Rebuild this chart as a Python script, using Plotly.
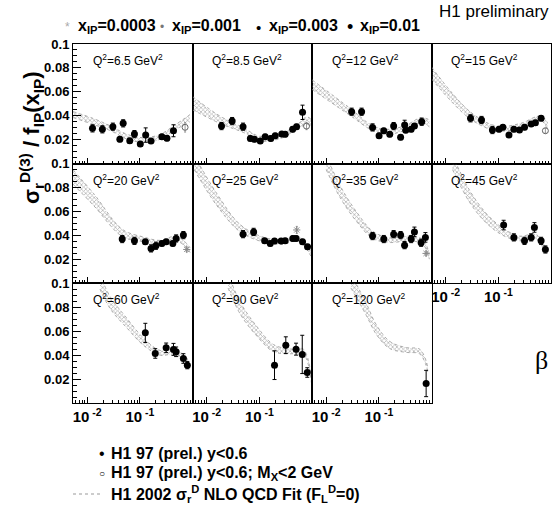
import plotly.graph_objects as go
from plotly.subplots import make_subplots

# Q^2 bins, one panel each (GeV^2)
q2_values = ["6.5", "8.5", "12", "15", "20", "25", "35", "45", "60", "90", "120"]

# H1 97 (prel.) y<0.6 : beta, sigma_r^D / f_IP, total error
pt_beta = [
    [0.0126, 0.0194, 0.0307, 0.0482, 0.0417, 0.0643, 0.0789, 0.102, 0.129, 0.163, 0.262, 0.327, 0.435],
    [0.0191, 0.0304, 0.049, 0.0675, 0.0805, 0.104, 0.129, 0.165, 0.2, 0.267, 0.309, 0.429, 0.509, 0.661],
    [0.0304, 0.047, 0.0759, 0.101, 0.124, 0.161, 0.191, 0.259, 0.309, 0.324, 0.411, 0.474, 0.652],
    [0.0296, 0.0479, 0.0771, 0.103, 0.122, 0.159, 0.197, 0.252, 0.314, 0.42, 0.506, 0.649],
    [0.0462, 0.0789, 0.127, 0.163, 0.202, 0.262, 0.316, 0.423, 0.489, 0.671],
    [0.049, 0.0778, 0.126, 0.161, 0.194, 0.259, 0.309, 0.432, 0.498, 0.661, 0.822],
    [0.0759, 0.124, 0.191, 0.259, 0.308, 0.411, 0.474, 0.635, 0.766],
    [0.126, 0.197, 0.314, 0.42, 0.484, 0.649, 0.782],
    [0.127, 0.196, 0.316, 0.435, 0.489, 0.671, 0.798],
    [0.194, 0.318, 0.498, 0.653, 0.813],
    [0.791],
]
pt_val = [
    [0.0295, 0.0287, 0.0309, 0.0337, 0.0203, 0.0191, 0.0247, 0.0164, 0.0239, 0.0189, 0.0225, 0.0212, 0.0275],
    [0.0314, 0.0356, 0.0309, 0.0211, 0.0203, 0.0189, 0.0225, 0.0211, 0.0233, 0.0247, 0.0245, 0.0287, 0.0309, 0.0429],
    [0.0434, 0.0434, 0.0303, 0.0233, 0.0275, 0.0245, 0.0314, 0.022, 0.0323, 0.028, 0.0287, 0.0314, 0.035],
    [0.0379, 0.0365, 0.0281, 0.0287, 0.0304, 0.0239, 0.0287, 0.0281, 0.0304, 0.0331, 0.0342, 0.0379],
    [0.037, 0.0355, 0.0347, 0.0292, 0.0314, 0.0333, 0.0347, 0.0333, 0.0375, 0.0403],
    [0.0411, 0.043, 0.0355, 0.0333, 0.0353, 0.0353, 0.0355, 0.0375, 0.0375, 0.0347, 0.0305],
    [0.0395, 0.037, 0.0411, 0.0403, 0.0319, 0.037, 0.043, 0.0339, 0.0384],
    [0.0487, 0.0384, 0.0355, 0.0384, 0.0467, 0.0355, 0.0283],
    [0.0586, 0.0414, 0.0461, 0.0448, 0.0428, 0.0372, 0.0316],
    [0.0316, 0.0483, 0.045, 0.0406, 0.0255],
    [0.0163],
]
pt_err = [
    [0.003, 0.003, 0.003, 0.003, 0.002, 0.002, 0.003, 0.002, 0.006, 0.002, 0.002, 0.002, 0.005],
    [0.003, 0.003, 0.003, 0.002, 0.002, 0.002, 0.002, 0.002, 0.002, 0.002, 0.002, 0.002, 0.002, 0.006],
    [0.003, 0.003, 0.003, 0.002, 0.002, 0.002, 0.003, 0.002, 0.004, 0.002, 0.002, 0.002, 0.003],
    [0.003, 0.003, 0.003, 0.002, 0.002, 0.002, 0.002, 0.002, 0.002, 0.002, 0.002, 0.002],
    [0.003, 0.003, 0.002, 0.003, 0.003, 0.002, 0.002, 0.002, 0.003, 0.003],
    [0.003, 0.003, 0.002, 0.002, 0.002, 0.002, 0.002, 0.002, 0.002, 0.002, 0.002],
    [0.003, 0.003, 0.003, 0.003, 0.003, 0.003, 0.004, 0.003, 0.004],
    [0.004, 0.003, 0.003, 0.003, 0.004, 0.003, 0.003],
    [0.008, 0.004, 0.004, 0.005, 0.004, 0.004, 0.003],
    [0.012, 0.007, 0.005, 0.016, 0.004],
    [0.011],
]

# H1 97 (prel.) y<0.6; M_X<2 GeV  (panel index, beta, value, error)
open_panel = [0, 1, 3]
open_beta = [0.723, 0.787, 0.782]
open_val = [0.0304, 0.0314, 0.0275]
open_err = [0.004, 0.003, 0.002]

# lowest x_IP points (x_IP = 0.0003)
star_panel = [4, 5, 6]
star_beta = [0.778, 0.513, 0.789]
star_val = [0.0283, 0.0446, 0.025]
star_err = [0.002, 0.003, 0.002]

# H1 2002 NLO QCD fit: beta nodes, central value, half width of the band
band_beta = [
    [0.0054, 0.0135, 0.0278, 0.0574, 0.118, 0.244, 0.435, 0.897],
    [0.0054, 0.0191, 0.0501, 0.1, 0.251, 0.501, 0.794, 0.977],
    [0.0054, 0.0282, 0.0778, 0.161, 0.332, 0.637, 0.912],
    [0.0054, 0.0288, 0.0918, 0.252, 0.649, 0.865],
    [0.0054, 0.0135, 0.0462, 0.118, 0.244, 0.504, 0.897],
    [0.0058, 0.0158, 0.0437, 0.129, 0.286, 0.55, 0.984],
    [0.0100, 0.0183, 0.0378, 0.0778, 0.161, 0.383, 0.682, 0.912],
    [0.0135, 0.0288, 0.0594, 0.122, 0.252, 0.521, 0.805],
    [0.0175, 0.0278, 0.0574, 0.118, 0.244, 0.468, 0.834],
    [0.0255, 0.0437, 0.0902, 0.185, 0.383, 0.682, 0.984],
    [0.0295, 0.0583, 0.0902, 0.161, 0.332, 0.592, 0.791, 0.847],
]
band_mid = [
    [0.041, 0.035, 0.0295, 0.0225, 0.0197, 0.0225, 0.0295, 0.038],
    [0.0505, 0.036, 0.028, 0.021, 0.023, 0.030, 0.036, 0.034],
    [0.066, 0.0434, 0.0295, 0.0267, 0.0303, 0.0365, 0.0337],
    [0.0757, 0.0406, 0.0295, 0.0314, 0.0379, 0.0309],
    [0.0888, 0.0696, 0.0422, 0.0367, 0.0339, 0.0375, 0.0278],
    [0.101, 0.0696, 0.0459, 0.0361, 0.0347, 0.0375, 0.0236],
    [0.101, 0.0768, 0.0556, 0.0403, 0.0361, 0.0375, 0.0347, 0.0222],
    [0.101, 0.0723, 0.0543, 0.0431, 0.0375, 0.0389, 0.0263],
    [0.101, 0.0833, 0.0665, 0.0511, 0.0419, 0.0427, 0.0343],
    [0.102, 0.079, 0.0598, 0.0459, 0.0431, 0.0431, 0.0176],
    [0.102, 0.0778, 0.0611, 0.0485, 0.0443, 0.0431, 0.0333, 0.0274],
]
band_hw = [
    [0.0025, 0.0025, 0.002, 0.002, 0.002, 0.002, 0.002, 0.003],
    [0.0055, 0.003, 0.002, 0.002, 0.002, 0.002, 0.003, 0.003],
    [0.004, 0.003, 0.002, 0.002, 0.002, 0.002, 0.003],
    [0.005, 0.003, 0.002, 0.002, 0.002, 0.003],
    [0.006, 0.005, 0.003, 0.002, 0.002, 0.002, 0.002],
    [0.006, 0.005, 0.003, 0.002, 0.002, 0.002, 0.002],
    [0.006, 0.005, 0.004, 0.003, 0.002, 0.002, 0.002, 0.002],
    [0.006, 0.005, 0.004, 0.003, 0.002, 0.002, 0.002],
    [0.006, 0.005, 0.004, 0.003, 0.002, 0.002, 0.002],
    [0.006, 0.005, 0.004, 0.003, 0.002, 0.002, 0.002],
    [0.006, 0.005, 0.004, 0.003, 0.002, 0.002, 0.002, 0.002],
]

y_ticks = [0.02, 0.04, 0.06, 0.08, 0.1]
y_ticktext = ["0.02", "0.04", "0.06", "0.08", "0.1"]
x_ticks = [0.01, 0.1]
x_ticktext = ["10<sup> -2</sup>", "10<sup> -1</sup>"]
x_minor = [m * d for d in (0.001, 0.01, 0.1) for m in range(2, 10)]

W, H = 552, 510
ML, MR, MT, MB = 73, 1, 44, 107
FONT = "Liberation Sans"


def px(x):
    return (x - ML) / (W - ML - MR)


def py(y):
    return (H - MB - y) / (H - MT - MB)


fig = make_subplots(rows=3, cols=4, horizontal_spacing=0, vertical_spacing=0)

for i, q2 in enumerate(q2_values):
    r, c = i // 4 + 1, i % 4 + 1
    lo = [m - h for m, h in zip(band_mid[i], band_hw[i])]
    hi = [m + h for m, h in zip(band_mid[i], band_hw[i])]
    fig.add_trace(go.Scatter(
        x=band_beta[i], y=lo, mode="lines",
        line=dict(color="#9a9a9a", width=0.8, dash="dot", shape="spline"),
        hoverinfo="skip", showlegend=False), row=r, col=c)
    fig.add_trace(go.Scatter(
        x=band_beta[i], y=hi, mode="lines", fill="tonexty",
        fillcolor="rgba(0,0,0,0)",
        fillpattern=dict(shape="x", fgcolor="#6e6e6e", bgcolor="rgba(255,255,255,0)",
                         size=3, solidity=0.45),
        line=dict(color="#9a9a9a", width=0.8, dash="dot", shape="spline"),
        hoverinfo="skip", showlegend=False), row=r, col=c)
    fig.add_trace(go.Scatter(
        x=pt_beta[i], y=pt_val[i], mode="markers",
        marker=dict(color="black", size=7, symbol="circle"),
        error_y=dict(type="data", array=pt_err[i], color="black", thickness=1, width=2),
        showlegend=False), row=r, col=c)

for k, p in enumerate(open_panel):
    fig.add_trace(go.Scatter(
        x=[open_beta[k]], y=[open_val[k]], mode="markers",
        marker=dict(color="#666", size=6, symbol="circle-open", line=dict(width=1)),
        error_y=dict(type="data", array=[open_err[k]], color="#999", thickness=1, width=1),
        showlegend=False), row=p // 4 + 1, col=p % 4 + 1)

for k, p in enumerate(star_panel):
    fig.add_trace(go.Scatter(
        x=[star_beta[k]], y=[star_val[k]], mode="markers",
        marker=dict(color="#888", size=6, symbol="asterisk-open", line=dict(width=1, color="#888")),
        error_y=dict(type="data", array=[star_err[k]], color="#999", thickness=1, width=1),
        showlegend=False), row=p // 4 + 1, col=p % 4 + 1)

for i in range(12):
    r, c = i // 4 + 1, i % 4 + 1
    if i == 11:
        fig.update_xaxes(visible=False, row=r, col=c)
        fig.update_yaxes(visible=False, row=r, col=c)
        continue
    show_x = (r == 3) or (r == 2 and c == 4)
    fig.update_xaxes(
        type="log", range=[-2.27, 0.0], showline=True, mirror=True,
        linecolor="black", linewidth=1, showgrid=False, zeroline=False,
        ticks="inside", ticklen=6, tickcolor="black",
        tickvals=x_ticks, ticktext=x_ticktext, showticklabels=show_x,
        tickfont=dict(family=FONT, size=15, color="black", weight="bold"),
        minor=dict(ticks="inside", ticklen=3, tickcolor="black", tickvals=x_minor, showgrid=False),
        row=r, col=c)
    fig.update_yaxes(
        range=[0, 0.1], showline=True, mirror=True, linecolor="black", linewidth=1,
        showgrid=False, zeroline=False,
        ticks="inside" if c == 1 else "", ticklen=8, tickcolor="black",
        tickvals=y_ticks, ticktext=y_ticktext, showticklabels=(c == 1),
        tickfont=dict(family=FONT, size=13, color="black", weight="bold"),
        minor=dict(ticks="inside" if c == 1 else "", ticklen=4, tickcolor="black", dtick=0.005),
        row=r, col=c)
    fig.add_annotation(
        text=f"Q<sup>2</sup>={q2_values[i]} GeV<sup>2</sup>",
        xref=f"x{i + 1 if i else ''} domain", yref=f"y{i + 1 if i else ''} domain",
        x=0.15, y=0.865, xanchor="left", yanchor="middle", showarrow=False,
        font=dict(family=FONT, size=12, color="black"))

annotations = []
# y axis title
annotations.append(dict(
    text="σ<sub>r</sub><sup>D(3)</sup> / f<sub>IP</sub>(x<sub>IP</sub>)",
    x=px(31), y=py(138), textangle=-90, font=dict(family=FONT, size=22, color="black", weight="bold")))
# beta label
annotations.append(dict(text="β", x=px(541), y=py(360),
                        font=dict(family="Liberation Serif", size=26, color="black")))
# header
annotations.append(dict(text="H1 preliminary", x=px(551), y=py(11), xanchor="right",
                        font=dict(family=FONT, size=17, color="black")))
# x_IP key
xip_labels = ["0.0003", "0.001", "0.003", "0.01"]
xip_text_x = [76, 170, 267, 358]
xip_mark_x = [67, 162, 258, 350]
xip_mark = ["*", "•", "•", "•"]
xip_mark_size = [12, 12, 15, 18]
xip_mark_color = ["#aaa", "#777", "black", "black"]
for lab, tx, mx, mk, ms, mc in zip(xip_labels, xip_text_x, xip_mark_x, xip_mark, xip_mark_size, xip_mark_color):
    annotations.append(dict(text=f"x<sub>IP</sub>={lab}", x=px(tx), y=py(26), xanchor="left",
                            font=dict(family=FONT, size=16, color="black", weight="bold")))
    annotations.append(dict(text=mk, x=px(mx), y=py(27), font=dict(family=FONT, size=ms, color=mc)))

# bottom key
key_text = ["H1 97 (prel.) y&lt;0.6",
            "H1 97 (prel.) y&lt;0.6; M<sub>X</sub>&lt;2 GeV",
            "H1 2002 σ<sub>r</sub><sup>D</sup> NLO QCD Fit (F<sub>L</sub><sup>D</sup>=0)"]
key_y = [453, 473, 494]
for t, ky in zip(key_text, key_y):
    annotations.append(dict(text=t, x=px(109), y=py(ky), xanchor="left",
                            font=dict(family=FONT, size=16, color="black", weight="bold")))
annotations.append(dict(text="•", x=px(102), y=py(453), font=dict(family=FONT, size=16, color="black")))
annotations.append(dict(text="○", x=px(102), y=py(473), font=dict(family=FONT, size=10, color="black")))

for a in annotations:
    a.setdefault("xanchor", "center")
    a.setdefault("yanchor", "middle")
    a.update(xref="paper", yref="paper", showarrow=False)
    fig.add_annotation(**a)

fig.add_shape(type="line", xref="paper", yref="paper", x0=px(73), x1=px(102), y0=py(494), y1=py(494),
              line=dict(color="#999", width=1, dash="dot"))

fig.update_layout(
    width=W, height=H, margin=dict(l=ML, r=MR, t=MT, b=MB),
    paper_bgcolor="white", plot_bgcolor="white", showlegend=False,
)

fig.write_html("out.html")
